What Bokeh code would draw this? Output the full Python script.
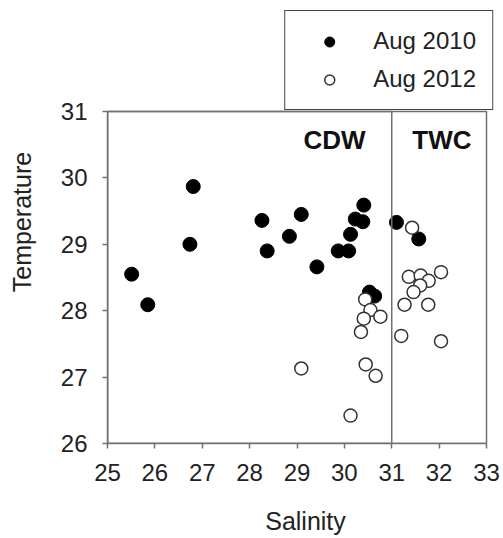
from bokeh.plotting import figure
from bokeh.models import FixedTicker, BoxAnnotation, Label, Legend, LegendItem, Range1d
from bokeh.embed import file_html
from bokeh.resources import INLINE

# Aug 2010 (filled)
sal_2010 = [25.51, 25.85, 26.81, 26.74, 28.26, 28.37, 28.84, 29.09, 30.41, 30.23,
            30.39, 30.13, 29.87, 30.09, 29.42, 31.10, 31.57, 30.53, 30.64]
temp_2010 = [28.55, 28.09, 29.87, 29.00, 29.36, 28.90, 29.12, 29.45, 29.59, 29.38,
             29.34, 29.15, 28.90, 28.90, 28.66, 29.33, 29.08, 28.28, 28.22]

# Aug 2012 (open)
sal_2012 = [31.43, 31.36, 31.61, 31.78, 32.04, 31.60, 31.46, 31.27, 31.77, 31.20,
            32.04, 30.44, 30.55, 30.41, 30.76, 30.35, 29.09, 30.45, 30.66, 30.13]
temp_2012 = [29.25, 28.51, 28.53, 28.45, 28.58, 28.38, 28.28, 28.09, 28.09, 27.62,
             27.54, 28.17, 28.01, 27.88, 27.91, 27.68, 27.13, 27.19, 27.02, 26.42]

x_ticks = [25, 26, 27, 28, 29, 30, 31, 32, 33]
y_ticks = [26, 27, 28, 29, 30, 31]
boundary_salinity = 31
region_labels = ["CDW", "TWC"]
region_label_x = [29.79, 32.06]
region_label_y = 30.57

FONT = "Liberation Sans"
GRAY = "#707070"
TXT = "#222222"

# plot box occupies x 107..486 px and y 111..443 px; the frame is enlarged to
# the top and right edges so that the legend above the box is not clipped
LEFT, RIGHT_BOX, TOP_BOX, BOTTOM = 107, 486, 111, 443
W, H = 503, 538
xu = (RIGHT_BOX - LEFT) / (x_ticks[-1] - x_ticks[0])
yu = (BOTTOM - TOP_BOX) / (y_ticks[-1] - y_ticks[0])
x_end = x_ticks[0] + (W - LEFT) / xu
y_end = y_ticks[0] + BOTTOM / yu

p = figure(width=W, height=H, output_backend="svg", toolbar_location=None,
           x_range=Range1d(x_ticks[0], x_end), y_range=Range1d(y_ticks[0], y_end),
           min_border_left=LEFT, min_border_right=0, min_border_top=0,
           min_border_bottom=H - BOTTOM)

p.grid.visible = False
p.outline_line_color = None
p.background_fill_color = "white"
p.border_fill_color = "white"

p.xaxis.bounds = (x_ticks[0], x_ticks[-1])
p.yaxis.bounds = (y_ticks[0], y_ticks[-1])
for ax, ticks in ((p.xaxis[0], x_ticks), (p.yaxis[0], y_ticks)):
    ax.ticker = FixedTicker(ticks=ticks)
    ax.minor_tick_line_color = None
    ax.major_tick_in = 0
    ax.major_tick_out = 5
    ax.major_tick_line_color = GRAY
    ax.major_tick_line_width = 1.5
    ax.axis_line_color = GRAY
    ax.axis_line_width = 1.5
    ax.major_label_text_font = FONT
    ax.major_label_text_font_size = "24px"
    ax.major_label_text_color = TXT
    ax.axis_label_text_font = FONT
    ax.axis_label_text_font_size = "25px"
    ax.axis_label_text_font_style = "normal"
    ax.axis_label_text_color = TXT

p.xaxis.axis_label = "Salinity"
p.yaxis.axis_label = "Temperature"
p.xaxis.major_label_standoff = 15
p.yaxis.major_label_standoff = 15
p.xaxis.axis_label_standoff = 23
p.yaxis.axis_label_standoff = 22

# plot box and the CDW/TWC boundary line
p.add_layout(BoxAnnotation(left=x_ticks[0], right=x_ticks[-1],
                           bottom=y_ticks[0], top=y_ticks[-1],
                           fill_alpha=0, line_color=GRAY, line_alpha=1,
                           line_width=1.5))
p.add_layout(BoxAnnotation(left=x_ticks[0], right=boundary_salinity,
                           bottom=y_ticks[0], top=y_ticks[-1],
                           fill_alpha=0, line_color=GRAY, line_alpha=1,
                           line_width=1.5))

r1 = p.scatter(sal_2010, temp_2010, size=14, marker="circle",
               fill_color="black", line_color="black", line_width=1)
r2 = p.scatter(sal_2012, temp_2012, size=13, marker="circle",
               fill_color="white", line_color="#333333", line_width=1.5)

for t, lx in zip(region_labels, region_label_x):
    p.add_layout(Label(x=lx, y=region_label_y, text=t, text_font=FONT,
                       text_font_size="26px", text_font_style="bold",
                       text_align="center", text_baseline="middle",
                       text_color="#111111"))

legend = Legend(items=[LegendItem(label="Aug 2010", renderers=[r1]),
                       LegendItem(label="Aug 2012", renderers=[r2])],
                location="top_right", orientation="vertical",
                padding=16, spacing=10, margin=10,
                glyph_width=56, glyph_height=25, label_height=25,
                label_standoff=16,
                label_text_font=FONT, label_text_font_size="24px",
                label_text_color=TXT,
                border_line_color="#444444", border_line_alpha=1,
                border_line_width=1.5,
                background_fill_color="white", background_fill_alpha=1)
p.add_layout(legend, "center")

open("out.html", "w").write(file_html(p, INLINE))
